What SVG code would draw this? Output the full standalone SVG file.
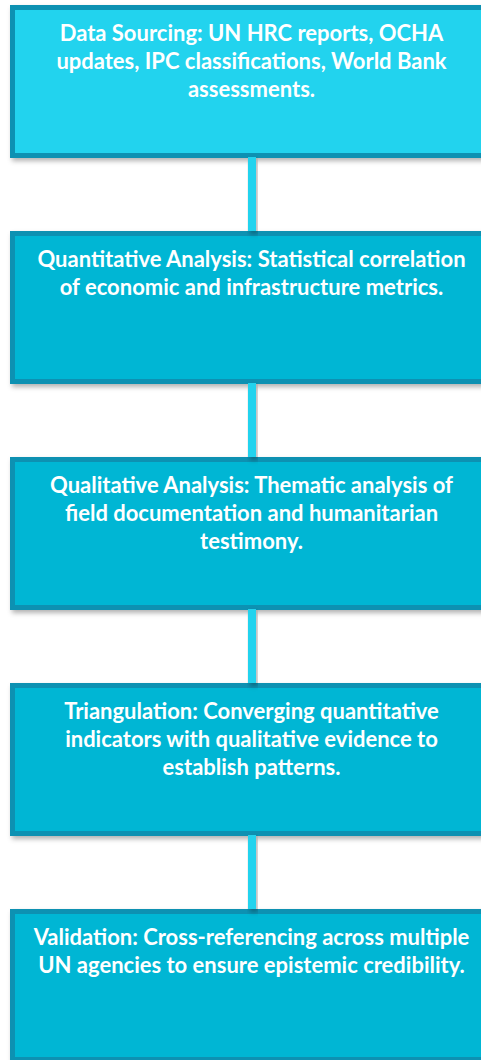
<svg xmlns="http://www.w3.org/2000/svg" width="481" height="1060" viewBox="0 0 481 1060">
<defs>
<filter id="sh" x="-10%" y="-10%" width="130%" height="130%">
<feDropShadow dx="2" dy="3" stdDeviation="2.5" flood-color="#000" flood-opacity="0.3"/>
</filter>
<style>
.box{fill:#06b6d4;stroke:#0891b2;stroke-width:5;filter:url(#sh)}
.first{fill:#22d3ee}
.t{font-family:Lato,"Liberation Sans",sans-serif;font-weight:bold;font-size:22px;fill:#fff;text-anchor:middle}
.c{fill:#22d3ee;filter:url(#sh)}
</style>
</defs>
<rect width="481" height="1060" fill="#fff"/>
<g id="n1">
<rect class="box first" x="12.5" y="7.5" width="480" height="148"/>
<text class="t" x="251.5" y="41">Data Sourcing: UN HRC reports, OCHA</text>
<text class="t" x="251.5" y="69">updates, IPC classifications, World Bank</text>
<text class="t" x="251.5" y="97">assessments.</text>
</g>
<g id="n2">
<rect class="box" x="12.5" y="233.5" width="480" height="148"/>
<text class="t" x="251.5" y="267">Quantitative Analysis: Statistical correlation</text>
<text class="t" x="251.5" y="295">of economic and infrastructure metrics.</text>
</g>
<g id="n3">
<rect class="box" x="12.5" y="459.5" width="480" height="148"/>
<text class="t" x="251.5" y="493">Qualitative Analysis: Thematic analysis of</text>
<text class="t" x="251.5" y="521">field documentation and humanitarian</text>
<text class="t" x="251.5" y="549">testimony.</text>
</g>
<g id="n4">
<rect class="box" x="12.5" y="685.5" width="480" height="148"/>
<text class="t" x="251.5" y="719">Triangulation: Converging quantitative</text>
<text class="t" x="251.5" y="747">indicators with qualitative evidence to</text>
<text class="t" x="251.5" y="775">establish patterns.</text>
</g>
<g id="n5">
<rect class="box" x="12.5" y="911.5" width="480" height="148"/>
<text class="t" x="251.5" y="945">Validation: Cross-referencing across multiple</text>
<text class="t" x="251.5" y="973">UN agencies to ensure epistemic credibility.</text>
</g>
<g id="connectors">
<rect class="c" x="248" y="157" width="8" height="74"/>
<rect class="c" x="248" y="383" width="8" height="74"/>
<rect class="c" x="248" y="609" width="8" height="74"/>
<rect class="c" x="248" y="835" width="8" height="74"/>
</g>
</svg>
